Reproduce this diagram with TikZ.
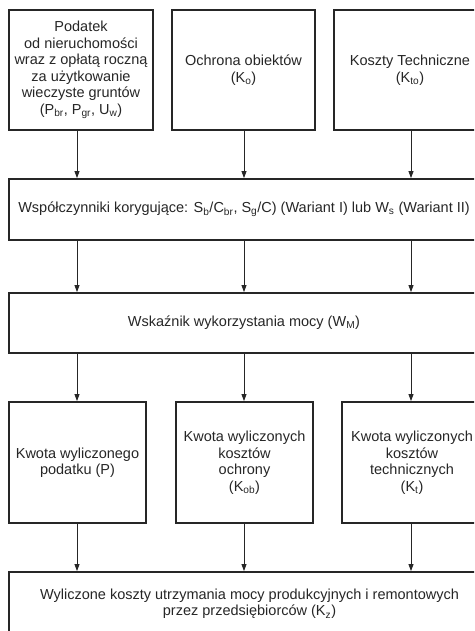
\documentclass[tikz,border=0pt]{standalone}
\usepackage{fontspec}
\setmainfont{Liberation Sans}
\usetikzlibrary{arrows.meta}
\tikzset{
box/.style={draw=black!85, line width=1.8pt, align=center, inner sep=2pt}, % frames of all blocks
arr/.style={-{Triangle[length=7pt,width=5pt]}, line width=0.8pt, draw=black!85}, % thin arrows between rows
}

\begin{document}
\begin{tikzpicture}[x=1pt, y=-1pt, font=\fontsize{14.5}{16.5}\selectfont, text=black!85]
        \useasboundingbox (0,0) rectangle (474,631);
        \clip (0,0) rectangle (474,631);
        % arrow columns
        \coordinate (c1) at (77,0);
        \coordinate (c2) at (244,0);
        \coordinate (c3) at (411,0);
        % top row
        \node[box, minimum width=144, minimum height=120] at (81,70) (pod) {Podatek\\od nieruchomości\\wraz z opłatą roczną\\za użytkowanie\\wieczyste gruntów\\(P\textsubscript{br}, P\textsubscript{gr}, U\textsubscript{w})};
        \node[box, minimum width=143, minimum height=120] at (243.5,70) (och) {Ochrona obiektów\\(K\textsubscript{o})};
        \node[box, minimum width=152, minimum height=120] at (410,70) (tech) {Koszty Techniczne\\(K\textsubscript{to})};
        % middle rows
        \node[box, minimum width=470, minimum height=61] at (244,209.5) (wsp) {Współczynniki korygujące: S\textsubscript{b}/C\textsubscript{br}, S\textsubscript{g}/C) (Wariant I) lub W\textsubscript{s} (Wariant II)};
        \node[box, minimum width=470, minimum height=60] at (244,323) (wsk) {Wskaźnik wykorzystania mocy (W\textsubscript{M})};
        % amounts
        \node[box, minimum width=137, minimum height=121] at (77.5,462.5) (kp) {Kwota wyliczonego\\podatku (P)};
        \node[box, minimum width=137, minimum height=121] at (244.5,462.5) (kob) {Kwota wyliczonych\\kosztów\\ochrony\\(K\textsubscript{ob})};
        \node[box, minimum width=140, minimum height=121] at (412,462.5) (kt) {Kwota wyliczonych\\kosztów\\technicznych\\(K\textsubscript{t})};
        % result
        \node[box, minimum width=481, minimum height=64] at (249.5,604) (kz) {Wyliczone koszty utrzymania mocy produkcyjnych i remontowych\\przez przedsiębiorców (K\textsubscript{z})};
        \draw
        (pod.south -| c1) edge[arr] (wsp.north -| c1)
        (och.south -| c2) edge[arr] (wsp.north -| c2)
        (tech.south -| c3) edge[arr] (wsp.north -| c3)
        (wsp.south -| c1) edge[arr] (wsk.north -| c1)
        (wsp.south -| c2) edge[arr] (wsk.north -| c2)
        (wsp.south -| c3) edge[arr] (wsk.north -| c3)
        (wsk.south -| c1) edge[arr] (kp.north -| c1)
        (wsk.south -| c2) edge[arr] (kob.north -| c2)
        (wsk.south -| c3) edge[arr] (kt.north -| c3)
        (kp.south -| c1) edge[arr] (kz.north -| c1)
        (kob.south -| c2) edge[arr] (kz.north -| c2)
        (kt.south -| c3) edge[arr] (kz.north -| c3)
        ;
    \end{tikzpicture}
\end{document}
